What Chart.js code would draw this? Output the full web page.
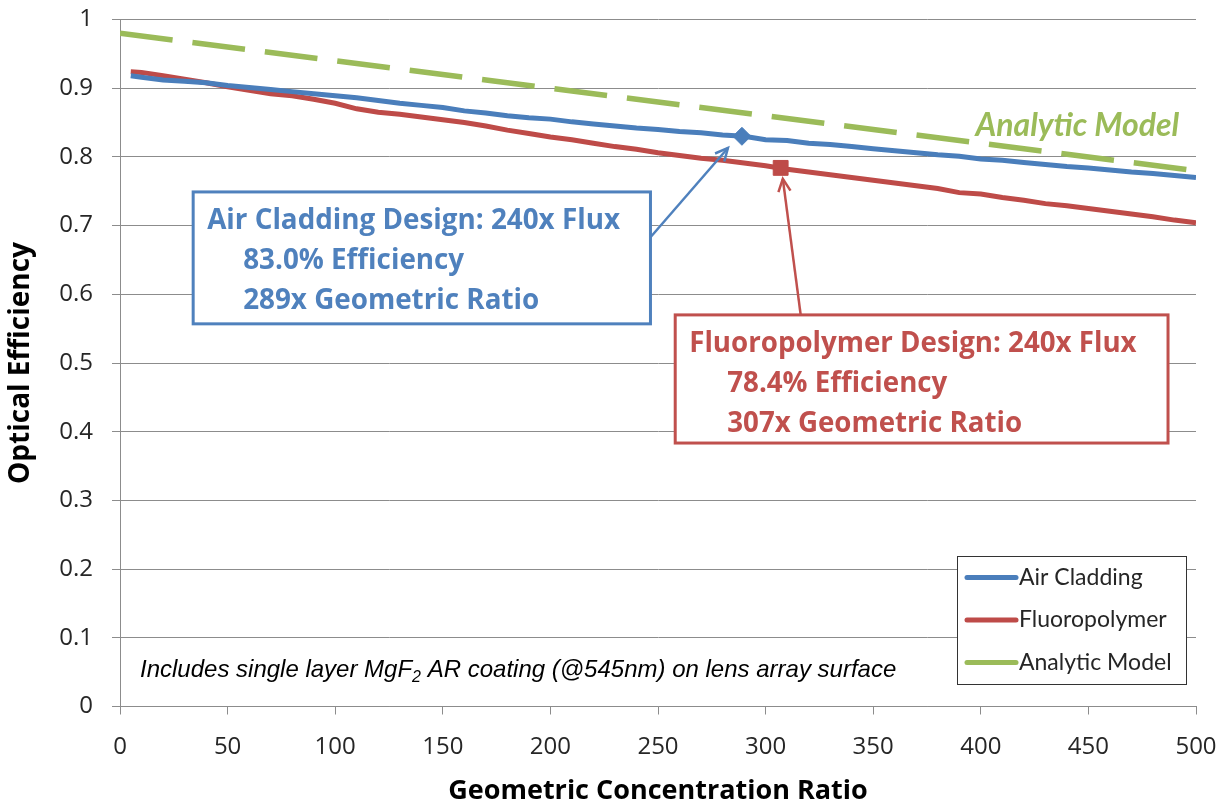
<!DOCTYPE html>
<html>
<head>
<meta charset="utf-8">
<script src="https://cdn.jsdelivr.net/npm/chart.js@4/dist/chart.umd.min.js"></script>
<style>
  html, body { margin: 0; background: #fff; }
  #wrap { width: 1220px; height: 808px; }
</style>
</head>
<body>
<div id="wrap"><canvas id="chart"></canvas></div>
<script>
// Data
const ratios = [5, 10, 20, 30, 40, 50, 60, 70, 80, 90, 100, 110, 120, 130, 140, 150, 160, 170, 180, 190,
    200, 210, 220, 230, 240, 250, 260, 270, 280, 290, 300, 310, 320, 330, 340, 350, 360, 370, 380, 390,
    400, 410, 420, 430, 440, 450, 460, 470, 480, 490, 500];
const airCladding = [0.918, 0.916, 0.912, 0.910, 0.908, 0.904, 0.901, 0.898, 0.895, 0.892,
    0.889, 0.886, 0.882, 0.878, 0.875, 0.872, 0.867, 0.864, 0.860, 0.857,
    0.855, 0.851, 0.848, 0.845, 0.842, 0.840, 0.837, 0.835, 0.832, 0.830,
    0.825, 0.824, 0.820, 0.818, 0.815, 0.812, 0.809, 0.806, 0.803, 0.801,
    0.797, 0.795, 0.792, 0.789, 0.786, 0.784, 0.781, 0.778, 0.776, 0.773, 0.770];
const fluoropolymer = [0.924, 0.923, 0.918, 0.913, 0.908, 0.902, 0.897, 0.892, 0.889, 0.884,
    0.878, 0.870, 0.865, 0.862, 0.858, 0.854, 0.850, 0.845, 0.839, 0.834,
    0.829, 0.825, 0.820, 0.815, 0.811, 0.806, 0.802, 0.798, 0.795, 0.791,
    0.787, 0.782, 0.778, 0.774, 0.770, 0.766, 0.762, 0.758, 0.754, 0.748,
    0.746, 0.741, 0.737, 0.732, 0.729, 0.725, 0.721, 0.717, 0.713, 0.708, 0.704];
const modelRatios = [0, 100, 200, 300, 400, 500];
const analyticModel = [0.98, 0.94, 0.90, 0.86, 0.82, 0.78];

// Design points
const airDesign = { x: 289, y: 0.830 };
const fluoroDesign = { x: 307, y: 0.784 };

const xTicks = [0, 50, 100, 150, 200, 250, 300, 350, 400, 450, 500];
const yTicks = [0, 0.1, 0.2, 0.3, 0.4, 0.5, 0.6, 0.7, 0.8, 0.9, 1];

const BLUE = '#4a7ebb';
const RED = '#be4b48';
const GREEN = '#9bbb59';
const FONT = '"Open Sans", Lato, sans-serif';
const NARROW = 'Lato, "Open Sans", sans-serif';

// Callout boxes, placed in data units
const callouts = [
    {
        color: '#4f81bd',
        box: [34, 246.5, 0.749, 0.557],
        lines: ['Air Cladding Design: 240x Flux', '83.0% Efficiency', '289x Geometric Ratio'],
        indent: 50,
        textWidth: 413,
        arrow: [246.5, 0.683, 282.5, 0.813]
    },
    {
        color: '#c0504d',
        box: [258, 487, 0.570, 0.3835],
        lines: ['Fluoropolymer Design: 240x Flux', '78.4% Efficiency', '307x Geometric Ratio'],
        indent: 52,
        textWidth: 447,
        arrow: [316.3, 0.570, 308, 0.768]
    }
];

const toXY = (xs, ys) => xs.map((x, i) => ({ x: x, y: ys[i] }));

const calloutPlugin = {
    id: 'callouts',
    afterDatasetsDraw(chart) {
        const { ctx, scales: { x, y } } = chart;
        ctx.save();
        callouts.forEach(c => {
            const l = x.getPixelForValue(c.box[0]), r = x.getPixelForValue(c.box[1]);
            const t = y.getPixelForValue(c.box[2]), b = y.getPixelForValue(c.box[3]);
            ctx.fillStyle = '#fff';
            ctx.fillRect(l, t, r - l, b - t);
            ctx.strokeStyle = c.color;
            ctx.lineWidth = 3;
            ctx.strokeRect(l, t, r - l, b - t);

            // size the text so the first line spans the same width as in the picture
            ctx.font = 'bold 25px ' + FONT;
            const size = 25 * c.textWidth / ctx.measureText(c.lines[0]).width;
            ctx.font = 'bold ' + size.toFixed(1) + 'px ' + FONT;
            ctx.fillStyle = c.color;
            ctx.textBaseline = 'middle';
            ctx.textAlign = 'left';
            c.lines.forEach((txt, i) => {
                ctx.fillText(txt, l + (i ? c.indent : 14), t + 29 + i * 40);
            });

            // arrow
            const ax = x.getPixelForValue(c.arrow[0]), ay = y.getPixelForValue(c.arrow[1]);
            const bx = x.getPixelForValue(c.arrow[2]), by = y.getPixelForValue(c.arrow[3]);
            ctx.lineWidth = 2.5;
            ctx.beginPath();
            ctx.moveTo(ax, ay);
            ctx.lineTo(bx, by);
            ctx.stroke();
            const ang = Math.atan2(by - ay, bx - ax);
            ctx.beginPath();
            ctx.moveTo(bx - 14 * Math.cos(ang - 0.45), by - 14 * Math.sin(ang - 0.45));
            ctx.lineTo(bx, by);
            ctx.lineTo(bx - 14 * Math.cos(ang + 0.45), by - 14 * Math.sin(ang + 0.45));
            ctx.stroke();
        });

        // "Analytic Model" label
        ctx.fillStyle = GREEN;
        ctx.font = 'italic bold 32px ' + NARROW;
        ctx.textBaseline = 'middle';
        ctx.fillText('Analytic Model', x.getPixelForValue(397.5), y.getPixelForValue(0.846));

        // footnote
        const area = chart.chartArea;
        let nx = area.left + 20;
        const ny = area.bottom - 36;
        ctx.fillStyle = '#000';
        ctx.font = 'italic 24px "Liberation Sans", Arial, sans-serif';
        const part1 = 'Includes single layer MgF';
        ctx.fillText(part1, nx, ny);
        nx += ctx.measureText(part1).width;
        ctx.font = 'italic 16px "Liberation Sans", Arial, sans-serif';
        ctx.fillText('2', nx, ny + 7);
        nx += ctx.measureText('2').width;
        ctx.font = 'italic 24px "Liberation Sans", Arial, sans-serif';
        ctx.fillText(' AR coating (@545nm) on lens array surface', nx, ny);

        // legend box
        const lw = 229, lh = 128;
        const lr = area.right - 10, lb = area.bottom - 23;
        const ll = lr - lw, lt = lb - lh;
        ctx.fillStyle = '#fff';
        ctx.fillRect(ll, lt, lw, lh);
        ctx.strokeStyle = '#333';
        ctx.lineWidth = 1;
        ctx.strokeRect(Math.round(ll) + 0.5, Math.round(lt) + 0.5, lw, lh);
        ctx.font = '23px ' + NARROW;
        chart.data.datasets.slice(0, 3).forEach((ds, i) => {
            const cy = lt + 22 + i * 42.5;
            ctx.strokeStyle = ds.borderColor;
            ctx.lineWidth = 5;
            ctx.lineCap = 'round';
            ctx.beginPath();
            ctx.moveTo(ll + 10, cy);
            ctx.lineTo(ll + 59, cy);
            ctx.stroke();
            ctx.fillStyle = '#262626';
            ctx.fillText(ds.label, ll + 62, cy);
        });
        ctx.restore();
    }
};

new Chart(document.getElementById('chart'), {
    type: 'line',
    data: {
        datasets: [
            {
                label: 'Air Cladding',
                data: toXY(ratios, airCladding),
                borderColor: BLUE,
                borderWidth: 5,
                pointRadius: 0,
                order: 2
            },
            {
                label: 'Fluoropolymer',
                data: toXY(ratios, fluoropolymer),
                borderColor: RED,
                borderWidth: 5,
                pointRadius: 0,
                order: 3
            },
            {
                label: 'Analytic Model',
                data: toXY(modelRatios, analyticModel),
                borderColor: GREEN,
                borderWidth: 5.5,
                borderDash: [53, 20],
                pointRadius: 0,
                order: 1
            },
            {
                label: 'Air design',
                data: [airDesign],
                showLine: false,
                pointStyle: 'rectRot',
                pointRadius: 9,
                backgroundColor: BLUE,
                borderColor: BLUE,
                order: 0
            },
            {
                label: 'Fluoro design',
                data: [fluoroDesign],
                showLine: false,
                pointStyle: 'rect',
                pointRadius: 10.5,
                backgroundColor: RED,
                borderColor: RED,
                order: 0
            }
        ]
    },
    options: {
        responsive: true,
        maintainAspectRatio: false,
        animation: false,
        layout: { padding: { top: 19.5, right: 24, left: 0, bottom: 0 } },
        plugins: {
            legend: { display: false },
            tooltip: { enabled: false }
        },
        scales: {
            x: {
                type: 'linear',
                min: 0,
                max: 500,
                afterFit: s => { s.height = 101.5; s.paddingLeft = 0; s.paddingRight = 0; },
                afterBuildTicks: s => { s.ticks = xTicks.map(v => ({ value: v })); },
                grid: { display: true, drawOnChartArea: false, drawTicks: true, tickLength: 8, color: '#8c8c8c' },
                border: { color: '#8c8c8c' },
                ticks: { color: '#262626', font: { family: FONT, size: 24 }, padding: 18 },
                title: {
                    display: true,
                    text: 'Geometric Concentration Ratio',
                    color: '#000',
                    font: { family: FONT, size: 27, weight: 'bold' },
                    padding: { top: 0, bottom: 0 }
                }
            },
            y: {
                min: 0,
                max: 1,
                afterFit: s => { s.width = 120; s.paddingTop = 0; s.paddingBottom = 0; },
                afterBuildTicks: s => { s.ticks = yTicks.map(v => ({ value: v })); },
                grid: { color: '#8c8c8c', tickLength: 8 },
                border: { color: '#8c8c8c' },
                ticks: {
                    color: '#262626',
                    font: { family: FONT, size: 24 },
                    padding: 19,
                    callback: v => String(Number(v.toFixed(1)))
                },
                title: {
                    display: true,
                    text: 'Optical Efficiency',
                    color: '#000',
                    font: { family: FONT, size: 28, weight: 'bold' },
                    padding: { top: 4, bottom: 0 }
                }
            }
        }
    },
    plugins: [calloutPlugin]
});
</script>
</body>
</html>
